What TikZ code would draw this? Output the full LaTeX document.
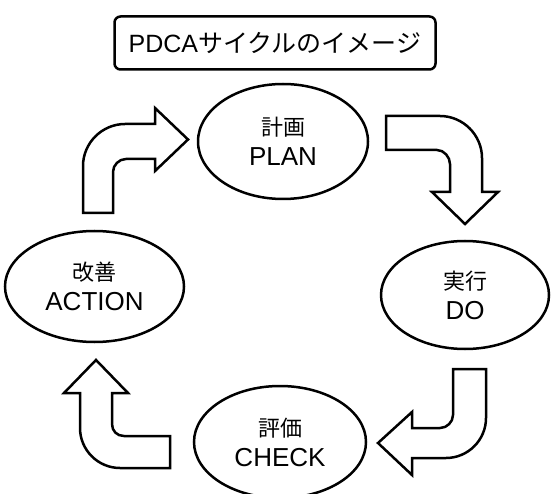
\documentclass[tikz,border=0pt]{standalone}
\usepackage{fontspec}
\setmainfont{Liberation Sans}
\newfontfamily\jpfont{Noto Sans CJK JP}
\usetikzlibrary{shapes}

\begin{document}
\begin{tikzpicture}[x=1pt, y=-1pt, line width=2.5pt,
    every node/.style={font=\fontsize{26}{30}\selectfont},
    phase/.style={draw, ellipse, inner sep=0pt, align=center},
    bigarrow/.style={draw, fill=white, line join=miter}]
\useasboundingbox (0,0) rectangle (551,494);
				\node[draw, rectangle, rounded corners=6pt, minimum width=321pt, minimum height=53pt, inner sep=0pt] (title) at (275,43) {\fontsize{25}{25}\selectfont PDCA{\jpfont サイクルのイメージ}};
				\node[phase, minimum width=170pt, minimum height=115pt] (plan) at (283,141.5) {{\jpfont\fontsize{22}{30}\selectfont 計画}\\PLAN};
				\node[phase, minimum width=168pt, minimum height=108pt] (do) at (465,295) {{\jpfont\fontsize{22}{30}\selectfont 実行}\\DO};
				\node[phase, minimum width=172pt, minimum height=112pt] (check) at (280,442) {{\jpfont\fontsize{22}{30}\selectfont 評価}\\CHECK};
				\node[phase, minimum width=179pt, minimum height=111pt] (action) at (94.5,286.5) {{\jpfont\fontsize{22}{30}\selectfont 改善}\\ACTION};
				% ACTION -> PLAN
				\draw[bigarrow] (83,213) -- (83,166) .. controls (83,143) and (102,124) .. (125,124) -- (155,124) -- (155,108) -- (188,139.5) -- (155,171) -- (155,159) -- (126,159) .. controls (119,159) and (113,165) .. (113,172) -- (113,213) -- cycle;
				% PLAN -> DO
				\draw[bigarrow] (386,116) -- (440,116) .. controls (463,116) and (482,135) .. (482,158) -- (482,192) -- (498,192) -- (465,224) -- (432,192) -- (450,192) -- (450,164) .. controls (450,157) and (444,150) .. (437,150) -- (386,150) -- cycle;
				% DO -> CHECK
				\draw[bigarrow] (453,369) -- (486,369) -- (486,418) .. controls (486,440) and (468,458) .. (446,458) -- (412,458) -- (412,475) -- (378,443) -- (412,412) -- (412,428) -- (440,428) .. controls (447,428) and (453,422) .. (453,415) -- cycle;
				% CHECK -> ACTION
				\draw[bigarrow] (170,436) -- (124,436) .. controls (117,436) and (112,431) .. (112,424) -- (112,393) -- (128,393) -- (96,360) -- (64,393) -- (80,393) -- (80,428) .. controls (80,450) and (98,468) .. (120,468) -- (170,468) -- cycle;
			\end{tikzpicture}
\end{document}
